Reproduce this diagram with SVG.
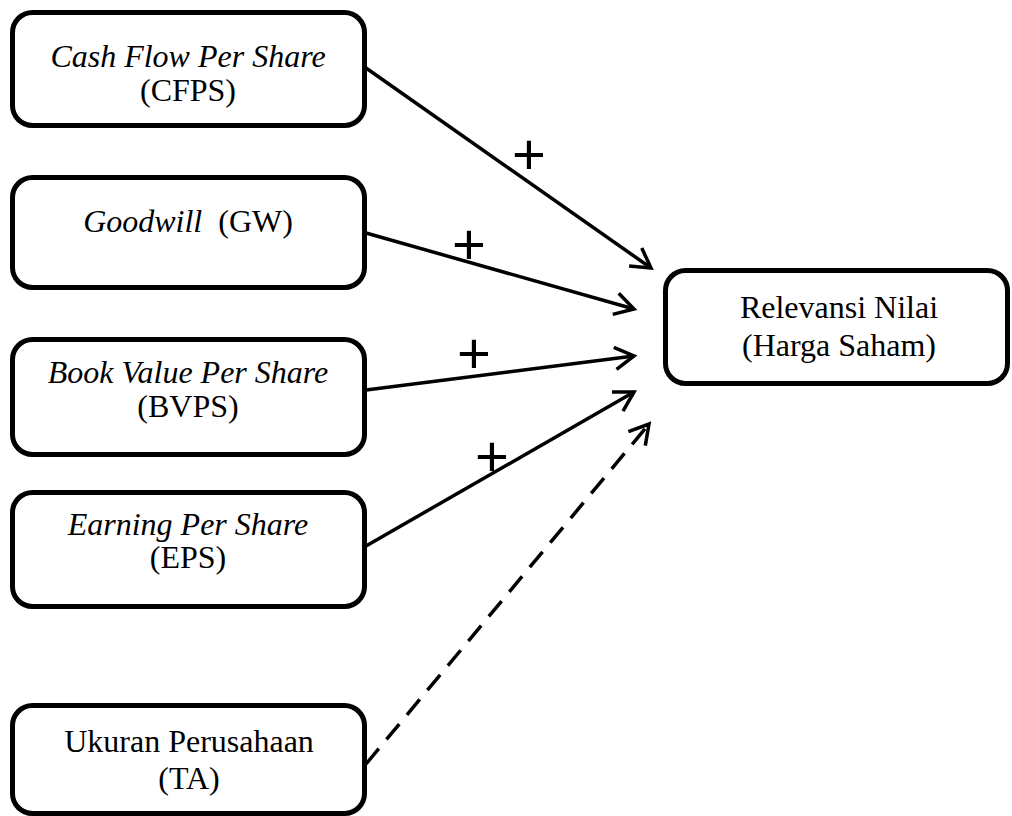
<svg xmlns="http://www.w3.org/2000/svg" width="1012" height="816" viewBox="0 0 1012 816">
<style>
.box{fill:#fff;stroke:#000;stroke-width:5}
.t{font-family:"Liberation Serif","Times New Roman",serif;font-size:32px;fill:#000;text-anchor:middle}
.i{font-style:italic}
.c{fill:none;stroke:#000;stroke-width:3.5}
.d{stroke-dasharray:20 12}
.p{font-family:"Liberation Sans",Arial,sans-serif;font-size:58px;fill:#000;text-anchor:middle}
</style>
<defs>
<marker id="ah" markerUnits="userSpaceOnUse" markerWidth="40" markerHeight="40" refX="0" refY="0" viewBox="-30 -20 40 40" orient="auto" overflow="visible">
<path d="M-19,-11 L0,0 L-19,11" fill="none" stroke="#000" stroke-width="3.5" stroke-linecap="butt" stroke-linejoin="miter"/>
</marker>
</defs>
<g id="connectors">
<line class="c" x1="366" y1="68" x2="651" y2="268" marker-end="url(#ah)"/>
<line class="c" x1="366" y1="233" x2="634" y2="309" marker-end="url(#ah)"/>
<line class="c" x1="366" y1="390" x2="634" y2="356" marker-end="url(#ah)"/>
<line class="c" x1="366" y1="546" x2="634" y2="392" marker-end="url(#ah)"/>
<line class="c d" x1="366" y1="764" x2="649" y2="424" marker-end="url(#ah)"/>
<text class="p" x="529" y="174">+</text>
<text class="p" x="469" y="264">+</text>
<text class="p" x="474" y="373">+</text>
<text class="p" x="492" y="476">+</text>
</g>
<g id="cfps">
<rect class="box" x="12.5" y="12.5" width="352" height="113" rx="20"/>
<text class="t i" x="188" y="67">Cash Flow Per Share</text>
<text class="t" x="188" y="101">(CFPS)</text>
</g>
<g id="gw">
<rect class="box" x="12.5" y="177.5" width="352" height="110" rx="20"/>
<text class="t" x="188" y="232"><tspan class="i">Goodwill</tspan><tspan dx="8"> (GW)</tspan></text>
</g>
<g id="bvps">
<rect class="box" x="12.5" y="339.5" width="352" height="115" rx="20"/>
<text class="t i" x="188" y="383">Book Value Per Share</text>
<text class="t" x="188" y="417">(BVPS)</text>
</g>
<g id="eps">
<rect class="box" x="12.5" y="492.5" width="352" height="114" rx="20"/>
<text class="t i" x="188" y="535">Earning Per Share</text>
<text class="t" x="188" y="568">(EPS)</text>
</g>
<g id="ta">
<rect class="box" x="12.5" y="705.5" width="352" height="108" rx="20"/>
<text class="t" x="189" y="752">Ukuran Perusahaan</text>
<text class="t" x="189" y="789">(TA)</text>
</g>
<g id="harga">
<rect class="box" x="665.5" y="270.5" width="342" height="113" rx="20"/>
<text class="t" x="839" y="318">Relevansi Nilai</text>
<text class="t" x="839" y="356">(Harga Saham)</text>
</g>
</svg>
